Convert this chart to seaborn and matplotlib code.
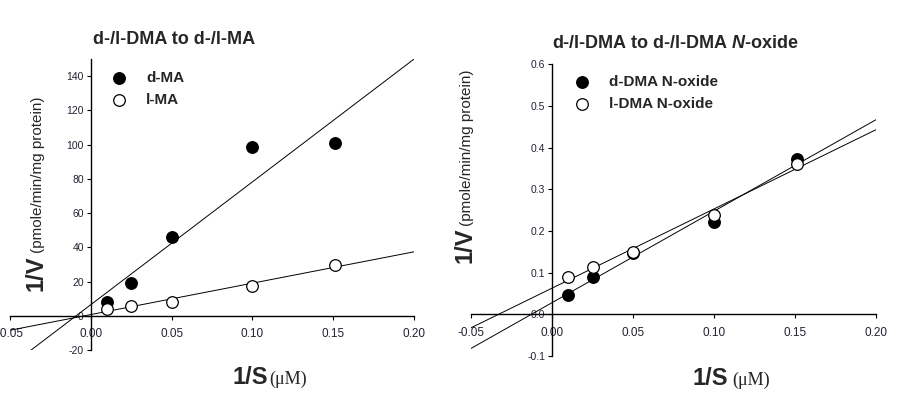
import numpy as np
import pandas as pd
import matplotlib
matplotlib.use("Agg")
import matplotlib.pyplot as plt
from matplotlib.ticker import FixedLocator, FixedFormatter
import seaborn as sns

# ---------------- data ----------------
inv_s = [0.010, 0.025, 0.050, 0.100, 0.151]
d_ma = [8.2, 19.0, 46.3, 98.8, 101.1]
l_ma = [3.7, 5.9, 8.2, 17.6, 29.7]
d_dma_noxide = [0.0465, 0.0897, 0.147, 0.2215, 0.3727]
l_dma_noxide = [0.0904, 0.1136, 0.1487, 0.239, 0.361]

x_ticks = [-0.05, 0.00, 0.05, 0.10, 0.15, 0.20]
x_ticklabels = ["-0.05", "0.00", "0.05", "0.10", "0.15", "0.20"]
left_yticks = [-20, 0, 20, 40, 60, 80, 100, 120, 140]
left_yticklabels = ["-20", "0", "20", "40", "60", "80", "100", "120", "140"]
right_yticks = [-0.1, 0.0, 0.1, 0.2, 0.3, 0.4, 0.5, 0.6]
right_yticklabels = ["-0.1", "0.0", "0.1", "0.2", "0.3", "0.4", "0.5", "0.6"]

left_title = "d-/l-DMA to d-/l-MA"
right_title = r"d-/l-DMA to d-/l-DMA $\mathit{N}$-oxide"
left_series = ["d-MA", "l-MA"]
right_series = ["d-DMA N-oxide", "l-DMA N-oxide"]

# ---------------- style ----------------
sns.set_theme(style="ticks")
plt.rcParams["font.family"] = ["Liberation Sans", "DejaVu Sans"]
plt.rcParams["mathtext.fontset"] = "custom"
plt.rcParams["mathtext.it"] = "Liberation Sans:italic:bold"
plt.rcParams["mathtext.rm"] = "Liberation Sans:bold"
plt.rcParams["mathtext.bf"] = "Liberation Sans:bold"

W, H = 922, 404
fig = plt.figure(figsize=(W / 100, H / 100), dpi=100)


def fx(px):
    return px / W


def fy(py):
    return 1 - py / H


ax1 = fig.add_axes([fx(10), fy(350), fx(404), (350 - 59) / H])
ax2 = fig.add_axes([fx(471), fy(356), fx(405), (356 - 64.3) / H])

panels = [
    (ax1, (-20, 150), [d_ma, l_ma], left_series, left_yticks, left_yticklabels),
    (ax2, (-0.1, 0.6), [d_dma_noxide, l_dma_noxide], right_series, right_yticks, right_yticklabels),
]

for ax, ylim, series, names, yt, ytl in panels:
    ax.set_xlim(-0.05, 0.20)
    ax.set_ylim(*ylim)
    for vals in series:
        sns.regplot(x=inv_s, y=vals, ax=ax, ci=None, truncate=False, scatter=False,
                    line_kws=dict(color="black", lw=0.7, zorder=2))
    for vals, name, fc in zip(series, names, ["black", "white"]):
        sns.scatterplot(x=inv_s, y=vals, ax=ax, s=70, color=fc, edgecolor="black",
                        linewidth=0.9, label=name, zorder=3, clip_on=False)
    ax.set_xlim(-0.05, 0.20)
    ax.set_ylim(*ylim)
    ax.spines["left"].set_position(("data", 0))
    ax.spines["bottom"].set_position(("data", 0))
    ax.spines["top"].set_visible(False)
    ax.spines["right"].set_visible(False)
    for s in ("left", "bottom"):
        ax.spines[s].set_linewidth(1.0)
        ax.spines[s].set_color("black")
    ax.xaxis.set_major_locator(FixedLocator(x_ticks))
    ax.xaxis.set_major_formatter(FixedFormatter(x_ticklabels))
    ax.yaxis.set_major_locator(FixedLocator(yt))
    ax.yaxis.set_major_formatter(FixedFormatter(ytl))
    ax.tick_params(axis="x", direction="out", length=3, width=0.8, pad=6,
                   labelsize=8.5, colors="black", labelcolor="#222233")
    ax.tick_params(axis="y", direction="out", length=3, width=0.8, pad=2,
                   labelsize=7.5, colors="black", labelcolor="#222233")
    ax.set_xlabel("")
    ax.set_ylabel("")
    ax.set_facecolor("none")

# legends
leg1 = ax1.legend(loc="upper left", bbox_to_anchor=(fx(111), fy(71)),
                  bbox_transform=fig.transFigure, frameon=False,
                  prop=dict(weight="bold", size=11), handlelength=1.0,
                  handletextpad=1.3, labelspacing=0.5, borderpad=0, borderaxespad=0,
                  scatterpoints=1)
leg2 = ax2.legend(loc="upper left", bbox_to_anchor=(fx(574), fy(75)),
                  bbox_transform=fig.transFigure, frameon=False,
                  prop=dict(weight="bold", size=11), handlelength=1.0,
                  handletextpad=1.3, labelspacing=0.5, borderpad=0, borderaxespad=0,
                  scatterpoints=1)

# titles
fig.text(fx(93), fy(39), left_title, ha="left", va="center", fontsize=13, fontweight="bold")
fig.text(fx(552), fy(44), right_title, ha="left", va="center", fontsize=13, fontweight="bold")

# x labels
for x1, x2, base in [(232, 269, 384), (692, 732, 385)]:
    fig.text(fx(x1), fy(base), "1/S", ha="left", va="baseline", fontsize=17, fontweight="bold")
    fig.text(fx(x2), fy(base), "(\u03bcM)", ha="left", va="baseline", fontsize=13,
             family=["Liberation Serif", "DejaVu Serif"])

# y labels
for xb, y1, y2 in [(42, 291, 253), (471, 263, 226)]:
    fig.text(fx(xb), fy(y1), "1/V", rotation=90, rotation_mode="anchor",
             ha="left", va="baseline", fontsize=17, fontweight="bold")
    fig.text(fx(xb), fy(y2), "(pmole/min/mg protein)", rotation=90, rotation_mode="anchor",
             ha="left", va="baseline", fontsize=11)

fig.savefig("out.png", dpi=100)
